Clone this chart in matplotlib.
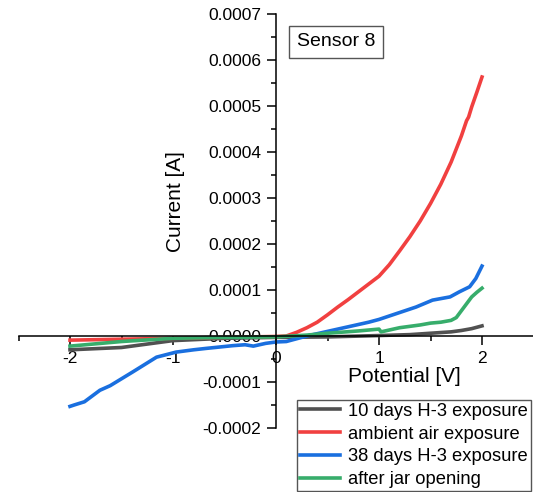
import matplotlib
matplotlib.use("Agg")
import matplotlib.pyplot as plt
from matplotlib.ticker import MultipleLocator, FormatStrFormatter

plt.rcParams['font.family'] = ['Liberation Sans', 'DejaVu Sans']
plt.rcParams['axes.unicode_minus'] = False

# data (current in units of 1e-5 A)
black_x = [-2.0, -1.8, -1.5, -1.2, -1.0, -0.5, 0.0, 0.5, 1.0, 1.3, 1.5, 1.7, 1.8, 1.9, 2.0]
black_y = [-3.0, -2.8, -2.5, -1.6, -1.0, -0.5, -0.3, -0.2, 0.1, 0.3, 0.6, 0.9, 1.2, 1.6, 2.2]

red_x = [-2.0, -1.5, -1.0, -0.5, 0.0, 0.1, 0.2, 0.3, 0.4, 0.5, 0.6, 0.7, 0.8, 0.9, 1.0,
         1.1, 1.2, 1.3, 1.4, 1.5, 1.6, 1.7, 1.8, 1.85, 1.87, 1.9, 1.95, 2.0]
red_y = [-0.9, -0.7, -0.5, -0.3, -0.1, 0.0, 0.8, 1.8, 3.0, 4.6, 6.3, 7.9, 9.6, 11.3, 13.0,
         15.5, 18.5, 21.6, 25.0, 28.8, 33.0, 37.8, 43.5, 46.8, 47.6, 49.8, 53.0, 56.3]

blue_x = [-2.0, -1.96, -1.86, -1.71, -1.61, -1.5, -1.39, -1.16, -0.97, -0.8, -0.68, -0.55,
          -0.42, -0.3, -0.22, -0.1, 0.0, 0.1, 0.2, 0.3, 0.5, 0.7, 0.9, 1.0, 1.2, 1.36,
          1.52, 1.69, 1.78, 1.88, 1.94, 2.0]
blue_y = [-15.3, -15.0, -14.3, -11.8, -10.8, -9.3, -7.8, -4.6, -3.5, -3.0, -2.7, -2.4,
          -2.1, -1.9, -2.2, -1.6, -1.3, -1.2, -0.6, 0.0, 1.0, 2.0, 3.0, 3.6, 5.1, 6.3,
          7.8, 8.5, 9.6, 10.7, 12.5, 15.2]

green_x = [-2.0, -1.5, -1.0, -0.5, 0.0, 0.3, 0.5, 0.8, 1.0, 1.02, 1.2, 1.4, 1.5, 1.6,
           1.7, 1.75, 1.8, 1.85, 1.9, 1.95, 2.0]
green_y = [-2.2, -1.2, -0.5, -0.3, -0.2, 0.2, 0.6, 1.1, 1.5, 0.9, 1.8, 2.4, 2.8, 3.0,
           3.4, 4.0, 5.5, 7.0, 8.5, 9.5, 10.4]

series = [
    (black_x, black_y, '#515151', '10 days H-3 exposure'),
    (red_x, red_y, '#F14040', 'ambient air exposure'),
    (blue_x, blue_y, '#1A6FDF', '38 days H-3 exposure'),
    (green_x, green_y, '#37AD6B', 'after jar opening'),
]

fig = plt.figure(figsize=(5.33, 4.92), dpi=100)
ax = fig.add_axes([18.5 / 533, 64 / 492, 515 / 533, 414 / 492])

for xs, ys, color, label in series:
    ax.plot(xs, [v * 1e-5 for v in ys], color=color, lw=2.6, label=label)

ax.set_xlim(-2.5, 2.5)
ax.set_ylim(-0.0002, 0.0007)

# axes crossing at the origin
ax.spines['left'].set_position(('data', 0))
ax.spines['bottom'].set_position(('data', 0))
ax.spines['top'].set_visible(False)
ax.spines['right'].set_visible(False)
for s in ('left', 'bottom'):
    ax.spines[s].set_linewidth(1.1)

ax.xaxis.set_major_locator(MultipleLocator(1))
ax.xaxis.set_minor_locator(MultipleLocator(0.5))
ax.yaxis.set_major_locator(MultipleLocator(0.0001))
ax.yaxis.set_minor_locator(MultipleLocator(0.00005))
ax.yaxis.set_major_formatter(FormatStrFormatter('%.4f'))
ax.tick_params(which='major', direction='out', length=6.5, width=1.1, pad=4, labelsize=12.5)
ax.tick_params(which='minor', direction='out', length=3.3, width=1.1)

ax.set_xlabel('Potential [V]', fontsize=15, va='center')
ax.xaxis.set_label_coords(0.749, 0.124)
ax.set_ylabel('Current [A]', fontsize=15, va='center')
ax.yaxis.set_label_coords(0.304, 0.548)

ax.text(336 / 533, 1 - 42 / 492, 'Sensor 8', transform=fig.transFigure, fontsize=14,
        ha='center', va='center',
        bbox=dict(boxstyle='square,pad=0.4', fc='white', ec='#555555', lw=1))

leg = ax.legend(loc='upper left', bbox_to_anchor=(297 / 533, 1 - 400 / 492),
                bbox_transform=fig.transFigure, fontsize=13.2, frameon=True,
                fancybox=False, edgecolor='#555555', framealpha=1,
                handlelength=2.2, handletextpad=0.45, labelspacing=0.32,
                borderpad=0.15, borderaxespad=0)
leg.get_frame().set_linewidth(1)

fig.savefig('out.png', dpi=100)
